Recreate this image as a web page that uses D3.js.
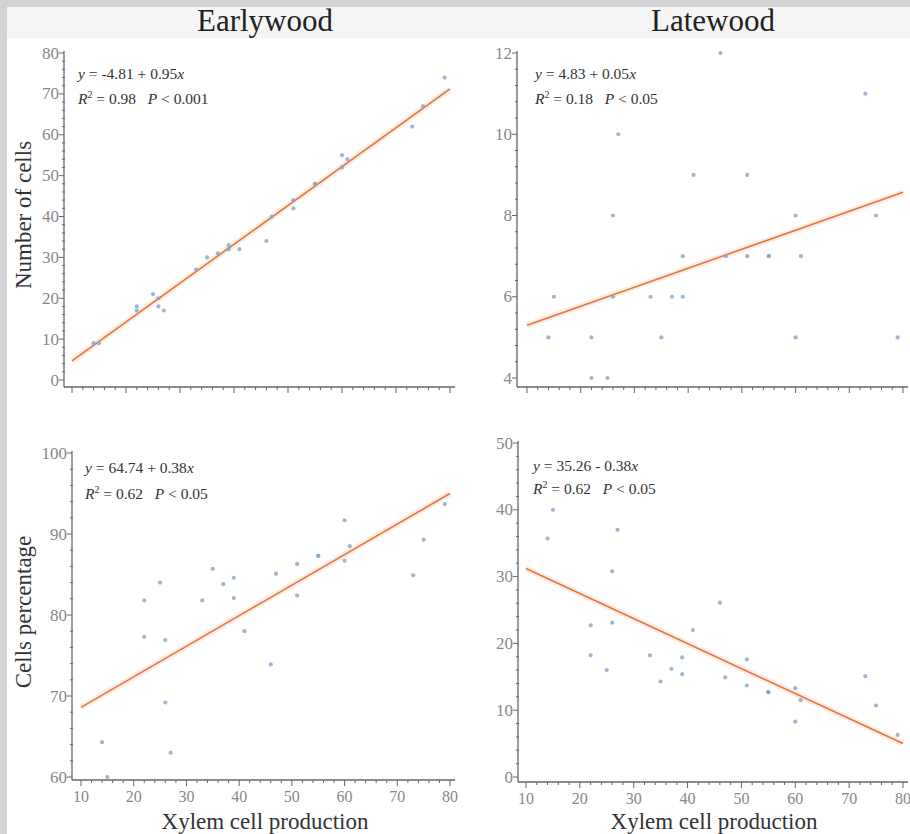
<!DOCTYPE html>
<html><head><meta charset="utf-8">
<script src="https://cdn.jsdelivr.net/npm/d3@7"></script>
<style>body{margin:0;background:#d6d6d6}svg{display:block}</style>
</head><body>
<script>
// ---- data ----
const xylemProduction = [14,15,22,22,25,26,26,27,33,35,37,39,39,41,46,47,51,51,55,55,60,60,61,73,75,79];
const earlywoodCells  = [9,9,18,17,21,20,18,17,27,30,31,33,32,32,34,40,44,42,48,48,55,52,54,62,67,74];
const latewoodCells   = [5,6,4,5,4,6,8,10,6,5,6,6,7,9,12,7,7,9,7,7,5,8,7,11,8,5];
const earlywoodPct    = [64.3,60.0,81.8,77.3,84.0,76.9,69.2,63.0,81.8,85.7,83.8,84.6,82.1,78.0,73.9,85.1,86.3,82.4,87.3,87.3,91.7,86.7,88.5,84.9,89.3,93.7];
const latewoodPct     = [35.7,40.0,18.2,22.7,16.0,23.1,30.8,37.0,18.2,14.3,16.2,15.4,17.9,22.0,26.1,14.9,13.7,17.6,12.7,12.7,8.3,13.3,11.5,15.1,10.7,6.3];
// fitted line values at x = 10 and x = 80
const fitEarlyCells = [4.70, 71.2];
const fitLateCells  = [5.30, 8.57];
const fitEarlyPct   = [68.6, 95.0];
const fitLatePct    = [31.2, 5.0];
const xTicks = [10,20,30,40,50,60,70,80];
const yTicksEarlyCells = [0,10,20,30,40,50,60,70,80];
const yTicksLateCells  = [4,6,8,10,12];
const yTicksEarlyPct   = [60,70,80,90,100];
const yTicksLatePct    = [0,10,20,30,40,50];
const columnTitles = ["Earlywood","Latewood"];
const rowTitles = ["Number of cells","Cells percentage"];
const xTitle = "Xylem cell production";

const W=910,H=834;
const svg=d3.select("body").append("svg").attr("width",W).attr("height",H);
svg.append("rect").attr("width",W).attr("height",H).attr("fill","#d3d3d3");
svg.append("rect").attr("x",7).attr("y",7).attr("width",W-7).attr("height",H-7).attr("fill","#ffffff");
svg.append("rect").attr("x",7).attr("y",7).attr("width",W-7).attr("height",31).attr("fill","#f5f5f5");

const serif="'Liberation Serif','Times New Roman',serif";

const panels=[
 {xr:[72,450],yr:[380,53],yd:[0,80],yt:yTicksEarlyCells,ax:64,ay:387,ys:earlywoodCells,fit:fitEarlyCells,xlab:false,
  eq:[["y"," = -4.81 + 0.95","x"],["R","2"," = 0.98   ","P"," < 0.001"]],ex:78,ey:[79,104]},
 {xr:[527,903],yr:[378,53],yd:[4,12],yt:yTicksLateCells,ax:517,ay:387,ys:latewoodCells,fit:fitLateCells,xlab:false,
  eq:[["y"," = 4.83 + 0.05","x"],["R","2"," = 0.18   ","P"," < 0.05"]],ex:535,ey:[79,104]},
 {xr:[81,450],yr:[777,453],yd:[60,100],yt:yTicksEarlyPct,ax:72,ay:780,ys:earlywoodPct,fit:fitEarlyPct,xlab:true,
  eq:[["y"," = 64.74 + 0.38","x"],["R","2"," = 0.62   ","P"," < 0.05"]],ex:85,ey:[473,499]},
 {xr:[526,903],yr:[777,443],yd:[0,50],yt:yTicksLatePct,ax:518,ay:782,ys:latewoodPct,fit:fitLatePct,xlab:true,
  eq:[["y"," = 35.26 - 0.38","x"],["R","2"," = 0.62   ","P"," < 0.05"]],ex:533,ey:[471,494]}
];

const axisCol="#666";
panels.forEach(p=>{
  const x=d3.scaleLinear().domain([10,80]).range(p.xr);
  const y=d3.scaleLinear().domain(p.yd).range(p.yr);
  const g=svg.append("g");
  // x axis
  const xa=g.append("g").attr("transform",`translate(0,${p.ay})`);
  xa.append("line").attr("x1",p.ax).attr("x2",Math.min(p.xr[1]+5,W)).attr("stroke",axisCol).attr("stroke-width",1.3);
  const xMinor=d3.range(10,80.01,2).filter(v=>v%10!==0);
  xa.selectAll(".mn").data(xMinor).join("line").attr("x1",d=>x(d)).attr("x2",d=>x(d)).attr("y1",0).attr("y2",3).attr("stroke",axisCol);
  xa.selectAll(".mj").data(xTicks).join("line").attr("x1",d=>x(d)).attr("x2",d=>x(d)).attr("y1",0).attr("y2",6).attr("stroke",axisCol);
  if(p.xlab){
    xa.selectAll("text").data(xTicks).join("text").attr("x",d=>x(d)).attr("y",22)
      .attr("text-anchor","middle").attr("font-family",serif).attr("font-size",16).attr("fill","#888").text(d=>d);
  }
  // y axis
  const ya=g.append("g").attr("transform",`translate(${p.ax},0)`);
  ya.append("line").attr("y1",p.yr[1]-2).attr("y2",p.ay).attr("stroke",axisCol).attr("stroke-width",1.3);
  const step=p.yt[1]-p.yt[0];
  const yMinor=[];
  for(let i=0;i<p.yt.length-1;i++) for(let k=1;k<5;k++) yMinor.push(p.yt[i]+k*step/5);
  ya.selectAll(".mn").data(yMinor).join("line").attr("y1",d=>y(d)).attr("y2",d=>y(d)).attr("x1",-2).attr("x2",1).attr("stroke",axisCol);
  ya.selectAll(".mj").data(p.yt).join("line").attr("y1",d=>y(d)).attr("y2",d=>y(d)).attr("x1",-5).attr("x2",0).attr("stroke",axisCol);
  ya.selectAll("text").data(p.yt).join("text").attr("x",-5).attr("y",d=>y(d)+5.5)
    .attr("text-anchor","end").attr("font-family",serif).attr("font-size",17).attr("fill","#888").text(d=>d);
  // fit line (glow + line)
  const fx=[10,80];
  g.append("line").attr("x1",x(fx[0])).attr("y1",y(p.fit[0])).attr("x2",x(fx[1])).attr("y2",y(p.fit[1]))
    .attr("stroke","#f6c8a8").attr("stroke-width",6).attr("stroke-opacity",0.35);
  g.append("line").attr("x1",x(fx[0])).attr("y1",y(p.fit[0])).attr("x2",x(fx[1])).attr("y2",y(p.fit[1]))
    .attr("stroke","#e2773e").attr("stroke-width",1.6);
  // points
  g.selectAll("circle").data(xylemProduction).join("circle")
    .attr("cx",d=>x(d)).attr("cy",(d,i)=>y(p.ys[i])).attr("r",2.1)
    .attr("fill","#7fa6cc").attr("fill-opacity",0.8);
  // equation text
  p.eq.forEach((parts,li)=>{
    const t=g.append("text").attr("x",p.ex).attr("y",p.ey[li]).attr("font-family",serif).attr("font-size",15.5)
      .attr("fill","#333").attr("xml:space","preserve");
    if(li===0){
      t.append("tspan").attr("font-style","italic").text(parts[0]);
      t.append("tspan").text(parts[1]);
      t.append("tspan").attr("font-style","italic").text(parts[2]);
    } else {
      t.append("tspan").attr("font-style","italic").text(parts[0]);
      t.append("tspan").attr("font-size",10).attr("dy",-6).text(parts[1]);
      t.append("tspan").attr("dy",6).text(parts[2]);
      t.append("tspan").attr("font-style","italic").text(parts[3]);
      t.append("tspan").text(parts[4]);
    }
  });
});

// column titles
[265,713].forEach((cx,i)=>svg.append("text").attr("x",cx).attr("y",31).attr("text-anchor","middle")
  .attr("font-family",serif).attr("font-size",31).attr("fill","#222").text(columnTitles[i]));
// x titles
[265,714].forEach(cx=>svg.append("text").attr("x",cx).attr("y",829).attr("text-anchor","middle")
  .attr("font-family",serif).attr("font-size",23).attr("fill","#333").text(xTitle));
// y titles
[215,612].forEach((cy,i)=>svg.append("text").attr("transform",`translate(31,${cy}) rotate(-90)`).attr("text-anchor","middle")
  .attr("font-family",serif).attr("font-size",23).attr("fill","#333").text(rowTitles[i]));
</script>
</body></html>
